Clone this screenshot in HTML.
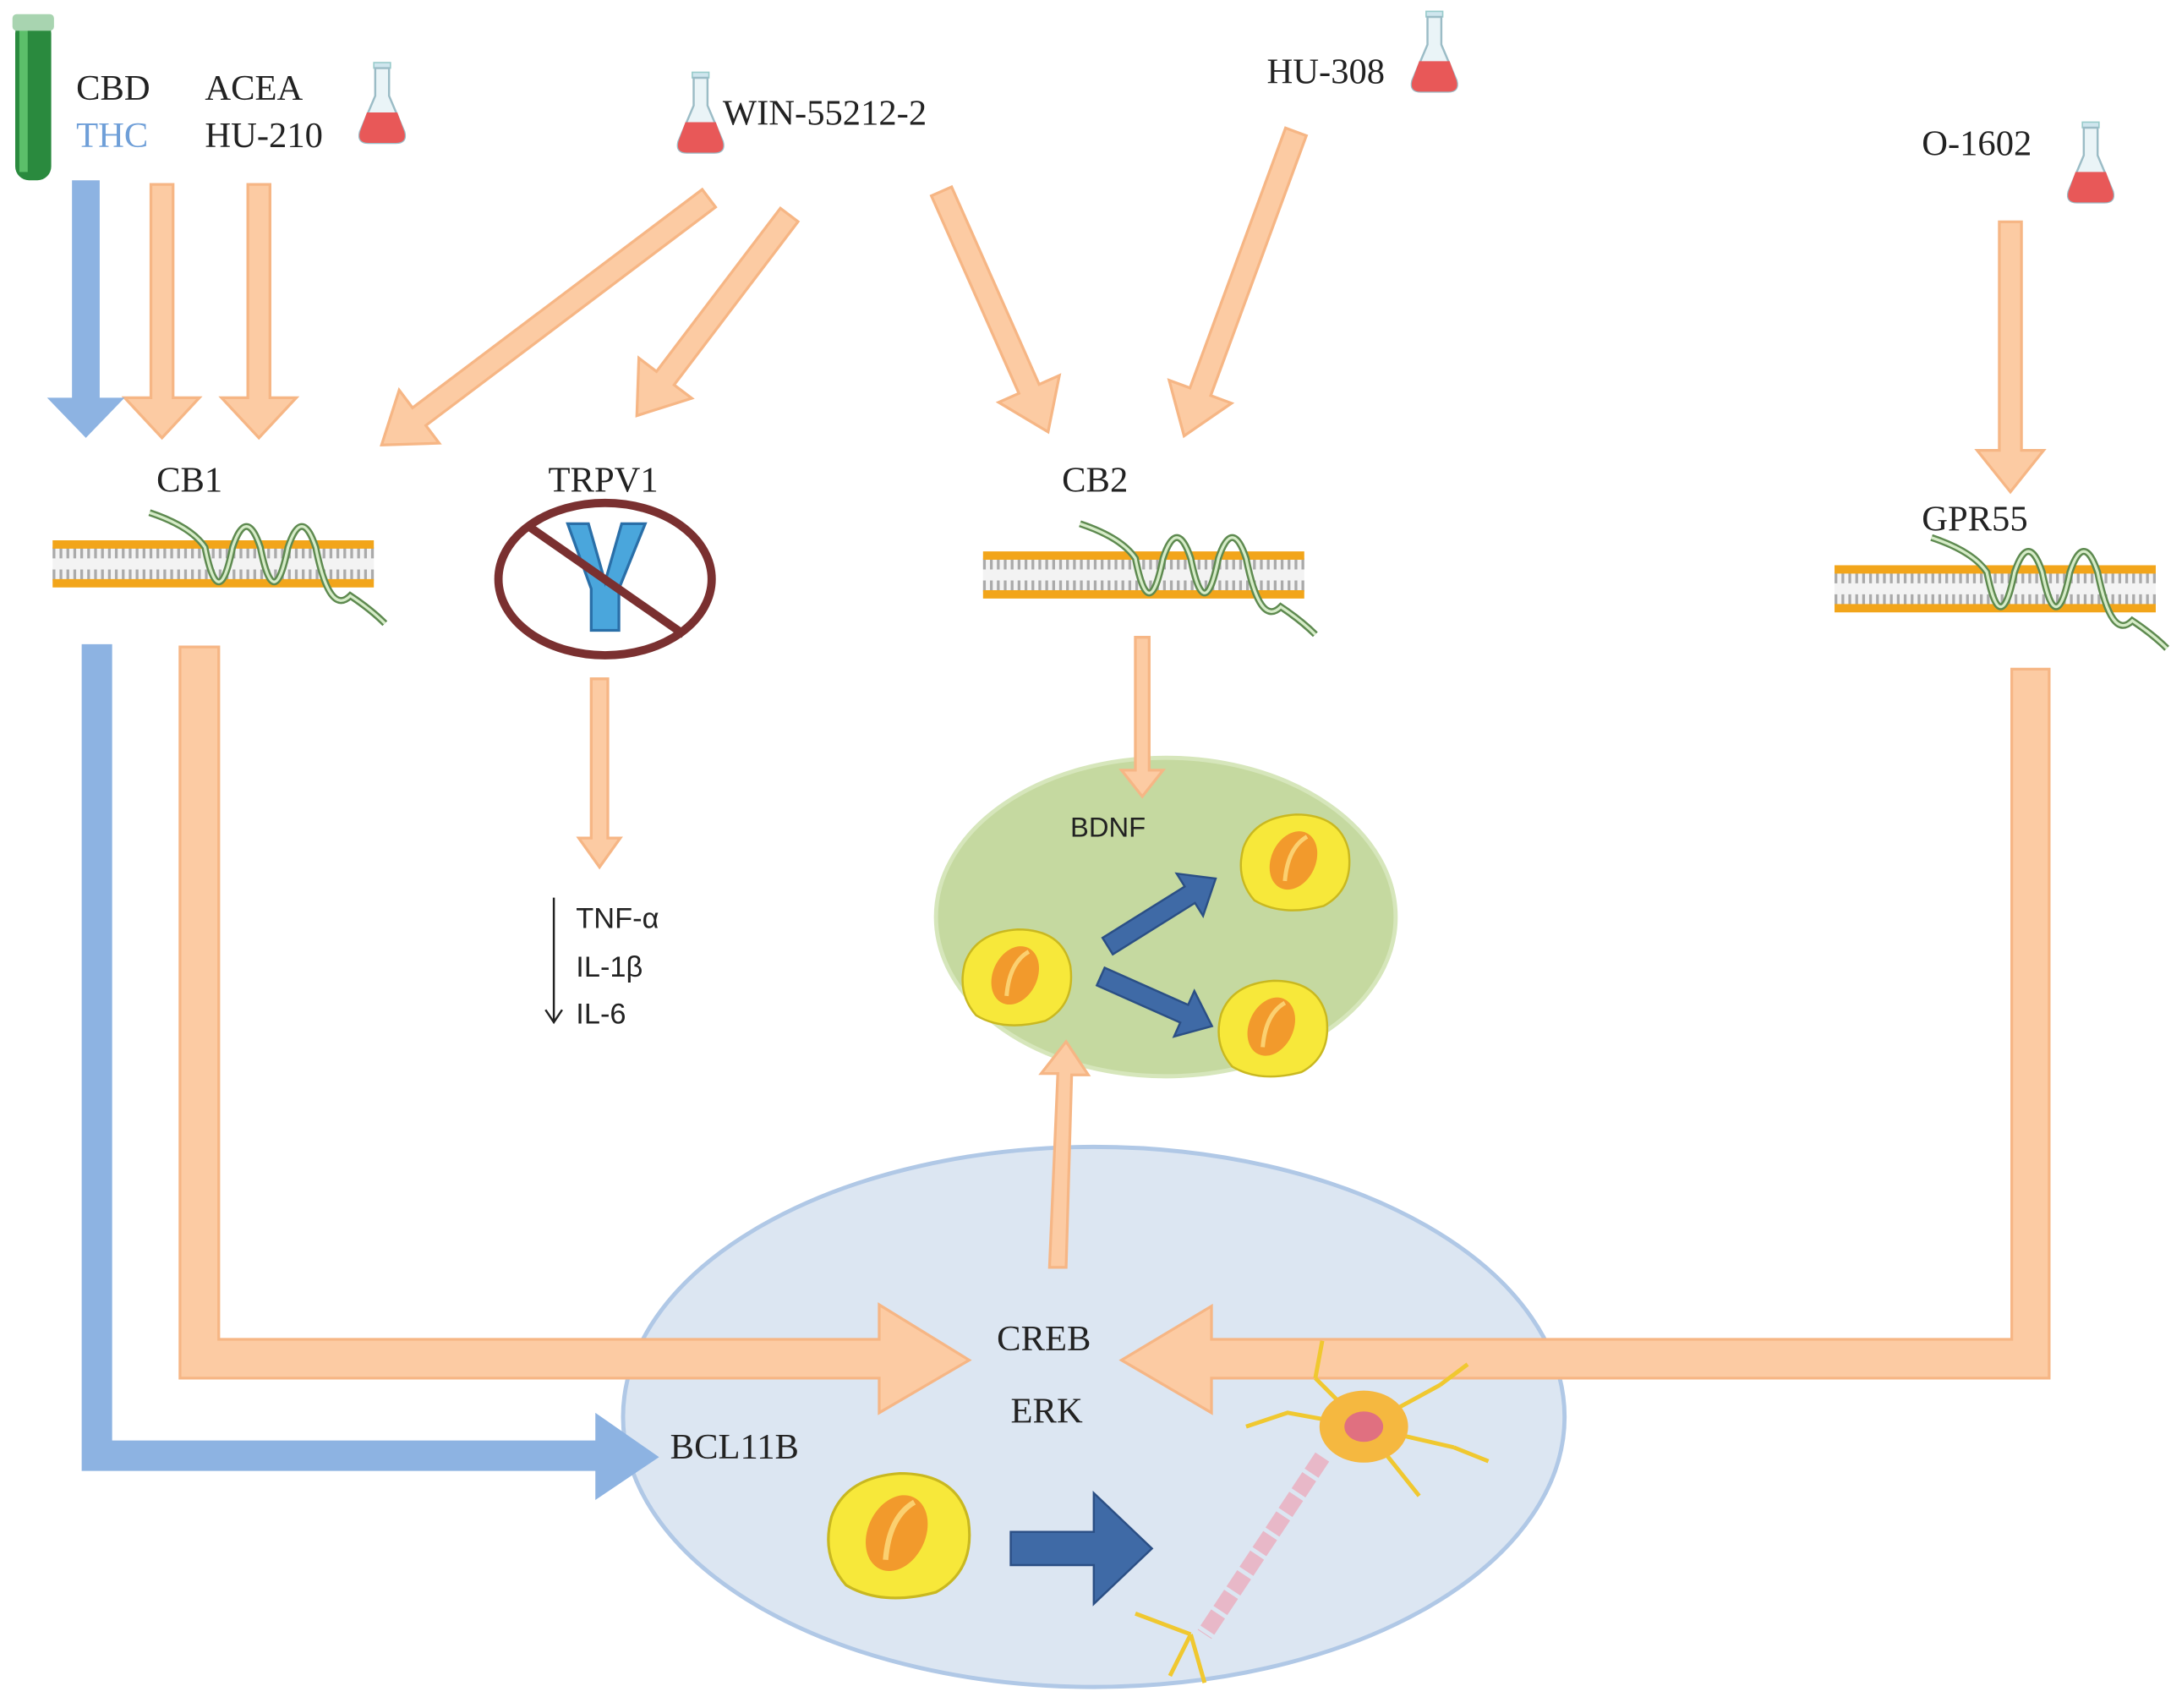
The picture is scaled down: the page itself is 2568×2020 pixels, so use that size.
<!DOCTYPE html>
<html><head><meta charset="utf-8"><style>
html,body{margin:0;padding:0;background:#fff;}
svg{display:block;}
.s{font-family:"Liberation Serif",serif;font-size:26px;fill:#222;}
.n{font-family:"Liberation Sans",sans-serif;font-size:21px;fill:#222;}
</style></head><body>
<svg width="2568" height="2020" viewBox="0 0 1568 1233" xmlns="http://www.w3.org/2000/svg">
<defs>
<g id="flask"><rect x="12" y="0" width="12" height="4" fill="#cfe6ee" stroke="#9cc" /><path d="M13 4 V24 L2 50 Q0 58 8 58 H28 Q36 58 34 50 L23 24 V4 Z" fill="#eaf4f7" stroke="#9bbcc6" stroke-width="1.5"/><path d="M7 36 H29 L34 50 Q36 58 28 58 H8 Q0 58 2 50 Z" fill="#e85858"/></g>
<g id="cell"><path d="M-38 -10 Q-30 -32 0 -34 Q32 -34 38 -8 Q42 20 20 32 Q-10 40 -30 28 Q-44 12 -38 -10Z" fill="#f7e83a" stroke="#c9b820" stroke-width="1.5"/><ellipse cx="-2" cy="0" rx="16" ry="22" transform="rotate(25)" fill="#f29a2c"/><path d="M-8 14 Q-6 -10 8 -18" stroke="#fbd070" stroke-width="3" fill="none"/></g>
<g id="mem">
<rect x="0" y="8" width="232" height="28" fill="#f3f3f3"/>
<g stroke="#aaa" stroke-width="1">
<path d="M0 14 H232 M0 30 H232" stroke-dasharray="2 3" stroke-width="8"/>
</g>
<g fill="#f2a51a"><path d="M0 5 H232 V11 H0Z M0 33 H232 V39 H0Z"/></g>
<path d="M70 -15 Q100 -5 110 10 Q120 60 130 10 Q140 -20 150 10 Q160 60 170 10 Q180 -20 190 10 Q200 60 215 45 Q230 55 240 65" stroke="#5e8a50" stroke-width="5" fill="none"/>
<path d="M70 -15 Q100 -5 110 10 Q120 60 130 10 Q140 -20 150 10 Q160 60 170 10 Q180 -20 190 10 Q200 60 215 45 Q230 55 240 65" stroke="#d6ecc8" stroke-width="2" fill="none"/>
</g>
</defs>
<rect width="1568" height="1233" fill="#fff"/>
<!-- ellipses -->
<ellipse cx="790" cy="1023" rx="340" ry="195" fill="#dce6f2" stroke="#b0c8e6" stroke-width="3"/>
<ellipse cx="842" cy="662" rx="166" ry="115" fill="#c5d9a0" stroke="#d6e6bb" stroke-width="3"/>
<!-- tube -->
<rect x="11" y="14" width="26" height="116" rx="10" fill="#2a8a3e"/><rect x="14" y="14" width="6" height="110" fill="#5cbf6a"/><rect x="9" y="10" width="30" height="12" rx="3" fill="#a8d4b0"/>
<use href="#flask" x="258" y="45"/><use href="#flask" x="488" y="52"/><use href="#flask" x="1018" y="8"/><use href="#flask" x="1492" y="88"/>
<text class="s" x="55" y="72">CBD</text><text class="s" x="55" y="106" fill="#6f9fd8" style="fill:#6f9fd8">THC</text>
<text class="s" x="148" y="72">ACEA</text><text class="s" x="148" y="106">HU-210</text>
<text class="s" x="522" y="90">WIN-55212-2</text><text class="s" x="915" y="60">HU-308</text><text class="s" x="1388" y="112">O-1602</text>
<!-- arrows -->
<g fill="#fccba3" stroke="#f6b685" stroke-width="2">
<path d="M109 133 H125 V287 H144 L117 316 L90 287 H109Z"/>
<path d="M179 133 H195 V287 H214 L187 316 L160 287 H179Z"/>
<g transform="translate(512,143) rotate(143.0)"><path d="M0 -8 H262 V-24 L296 0 L262 24 V8 H0Z"/></g>
<g transform="translate(570,155) rotate(127.2)"><path d="M0 -8 H148 V-24 L182 0 L148 24 V8 H0Z"/></g>
<g transform="translate(680,138) rotate(66.1)"><path d="M0 -8 H156 V-24 L190 0 L156 24 V8 H0Z"/></g>
<g transform="translate(936,95) rotate(110.2)"><path d="M0 -8 H200 V-24 L234 0 L200 24 V8 H0Z"/></g>
<path d="M1444 160 H1460 V325 H1476 L1452 355 L1428 325 H1444Z"/>
<path d="M427 490 H439 V605 H448 L433 626 L418 605 H427Z"/>
<path d="M820 460 H830 V556 H840 L825 575 L810 556 H820Z"/>
<path d="M758 915 L764 775 L752 775 L770 752 L786 776 L774 776 L770 915Z"/>
<path d="M130 467 H158 V967 H635 V942 L700 982 L635 1020 V995 H130Z"/>
<path d="M1453 483 H1480 V995 H875 V1020 L810 982 L875 943 V967 H1453Z"/>
</g>
<path d="M52 130 H72 V287 H90 L62 316 L34 287 H52Z" fill="#8db3e2"/>
<path d="M59 465 H81 V1040 H430 V1020 L476 1052 L430 1083 V1062 H59Z" fill="#8db3e2"/>
<g fill="#3f6aa6" stroke="#2b4f85" stroke-width="1.5">
<path d="M730 1106 H790 V1078 L832 1118 L790 1158 V1130 H730Z"/>
<g transform="translate(800,683) rotate(-32)"><path d="M0 -7 H70 V-18 L92 0 L70 18 V7 H0Z"/></g>
<g transform="translate(795,705) rotate(24)"><path d="M0 -7 H66 V-18 L88 0 L66 18 V7 H0Z"/></g>
</g>
<!-- membranes -->
<use href="#mem" x="38" y="385"/><use href="#mem" x="710" y="393"/><use href="#mem" x="1325" y="403"/>
<text class="s" x="113" y="355">CB1</text><text class="s" x="396" y="355">TRPV1</text><text class="s" x="767" y="355">CB2</text><text class="s" x="1388" y="383">GPR55</text>
<!-- TRPV1 -->
<path d="M410 378 L425 378 L437 420 L449 378 L466 378 L447 425 V455 H427 V425Z" fill="#4aa6dc" stroke="#2a6fa8" stroke-width="2"/>
<ellipse cx="437" cy="418" rx="77" ry="55" fill="none" stroke="#7a3030" stroke-width="6"/>
<line x1="382" y1="380" x2="494" y2="458" stroke="#7a3030" stroke-width="6"/>
<!-- cytokines -->
<line x1="400" y1="648" x2="400" y2="737" stroke="#222" stroke-width="1.5"/><path d="M394 729 L400 738 L406 729" fill="none" stroke="#222" stroke-width="1.5"/>
<text class="n" x="416" y="670">TNF-α</text><text class="n" x="416" y="705">IL-1β</text><text class="n" x="416" y="739">IL-6</text>
<text class="n" x="773" y="604" style="font-size:20px">BDNF</text>
<use href="#cell" x="735" y="705"/><use href="#cell" x="936" y="622"/><use href="#cell" x="920" y="742"/>
<g transform="translate(650,1108) scale(1.3)"><use href="#cell"/></g>
<text class="s" x="720" y="975">CREB</text><text class="s" x="730" y="1027">ERK</text><text class="s" x="484" y="1053">BCL11B</text>
<!-- neuron -->
<g stroke="#f0c830" stroke-width="3" fill="none">
<path d="M985 1030 L950 995 M985 1030 L1040 1000 M985 1030 L1050 1045 M985 1030 L1025 1080 M985 1030 L930 1020 L900 1030 M950 995 L955 968 M1040 1000 L1060 985 M1050 1045 L1075 1055 M860 1180 L820 1165 M860 1180 L845 1210 M860 1180 L870 1215"/>
</g>
<ellipse cx="985" cy="1030" rx="32" ry="26" fill="#f5b840"/><ellipse cx="985" cy="1030" rx="14" ry="11" fill="#e07080"/>
<path d="M955 1052 L870 1180" stroke="#e8b8c8" stroke-width="12" stroke-dasharray="14 3"/>
</svg>
</body></html>
